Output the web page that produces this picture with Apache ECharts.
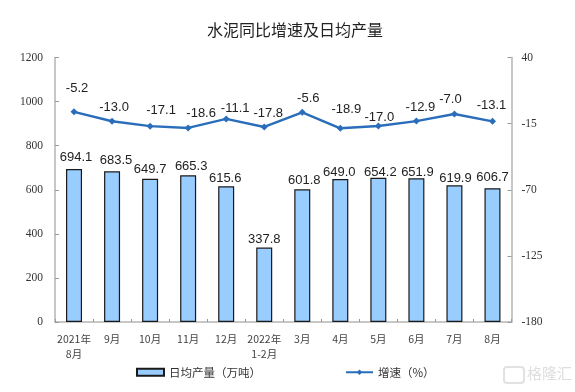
<!DOCTYPE html>
<html><head><meta charset="utf-8">
<style>html,body{margin:0;padding:0;background:#fff}#c{width:575px;height:392px}</style>
<script src="https://cdn.jsdelivr.net/npm/echarts@6/dist/echarts.min.js"></script>
</head><body><div id="c"></div>
<script>
const categories=['2021年\n8月','9月','10月','11月','12月','2022年\n1-2月','3月','4月','5月','6月','7月','8月'];
const output=[694.1,683.5,649.7,665.3,615.6,337.8,601.8,649.0,654.2,651.9,619.9,606.7];
const growth=[-5.2,-13.0,-17.1,-18.6,-11.1,-17.8,-5.6,-18.9,-17.0,-12.9,-7.0,-13.1];
const growthLabelOffsets=[[3,-10],[2,-1],[11,-3],[13,-2],[9,2],[4,-1],[6,-1],[6,-6],[1,4],[4,-1],[-4,-2],[-1,-3]];
const outputLabelOffsets=[[2,-2],[4,-1],[0,0],[3,1],[-1,2],[0,1],[2,1],[-1,3],[2,4],[1,4],[1,3],[0,-1]];
const fmt=v=>v.toFixed(1);
const chart=echarts.init(document.getElementById('c'),null,{renderer:'canvas'});
chart.setOption({
 animation:false,
 backgroundColor:'#fff',
 title:{text:'水泥同比增速及日均产量',left:202,top:17,textStyle:{fontFamily:'"Noto Sans CJK SC"',fontWeight:'normal',fontSize:16,color:'#222'}},
 grid:{left:55,right:63.5,top:57.5,bottom:70},
 legend:{bottom:9,left:131,itemGap:84,itemWidth:27,itemHeight:7,
  textStyle:{fontFamily:'"Noto Sans CJK SC"',fontSize:11.5,color:'#333'},
  data:[{name:'日均产量（万吨）',icon:'rect'},{name:'增速（%）'}]},
 xAxis:{type:'category',data:categories,
  axisLine:{lineStyle:{color:'#b5b5b5',width:1.5}},
  axisTick:{show:true,inside:true,length:3,lineStyle:{color:'#999'}},
  axisLabel:{interval:0,margin:10,lineHeight:15,fontSize:10.5,color:'#444',fontFamily:'"Noto Sans CJK SC"'}},
 yAxis:[
  {type:'value',min:0,max:1200,interval:200,splitLine:{show:false},
   axisLine:{show:true,lineStyle:{color:'#b5b5b5',width:1.5}},
   axisTick:{show:true,inside:true,length:4,lineStyle:{color:'#999'}},
   axisLabel:{margin:12,fontSize:11.5,color:'#333',fontFamily:'"Liberation Serif"',formatter:v=>String(v)}},
  {type:'value',min:-180,max:40,interval:55,splitLine:{show:false},position:'right',
   axisLine:{show:true,lineStyle:{color:'#b5b5b5',width:1.5}},
   axisTick:{show:true,inside:true,length:4,lineStyle:{color:'#999'}},
   axisLabel:{margin:10,fontSize:11.5,color:'#333',fontFamily:'"Liberation Serif"',formatter:v=>String(v)}}
 ],
 series:[
  {name:'日均产量（万吨）',type:'bar',barWidth:16,yAxisIndex:0,
   itemStyle:{color:'#99ccff',borderColor:'#1a1a1a',borderWidth:1.2},
   data:output.map((v,i)=>({value:v,label:{offset:outputLabelOffsets[i]}})),
   label:{show:true,position:'top',distance:3,formatter:p=>fmt(p.value),fontFamily:'"Liberation Sans"',fontSize:13,color:'#222'}},
  {name:'增速（%）',type:'line',yAxisIndex:1,symbol:'diamond',symbolSize:7,
   lineStyle:{color:'#2a6ebb',width:2.4},itemStyle:{color:'#2a6ebb'},
   data:growth.map((v,i)=>({value:v,label:{offset:growthLabelOffsets[i]}})),
   label:{show:true,position:'top',distance:3,formatter:p=>fmt(p.value),fontFamily:'"Liberation Sans"',fontSize:13,color:'#222'}}
 ],
 graphic:[
  {type:'rect',left:503,top:366,shape:{width:20,height:16,r:3},style:{fill:'#fff',stroke:'#e2e2e2',lineWidth:2}},
  {type:'text',left:527,top:366,style:{text:'格隆汇',fontFamily:'"Noto Sans CJK SC"',fontSize:15,fill:'#dedede'}}
 ]
});
</script></body></html>
